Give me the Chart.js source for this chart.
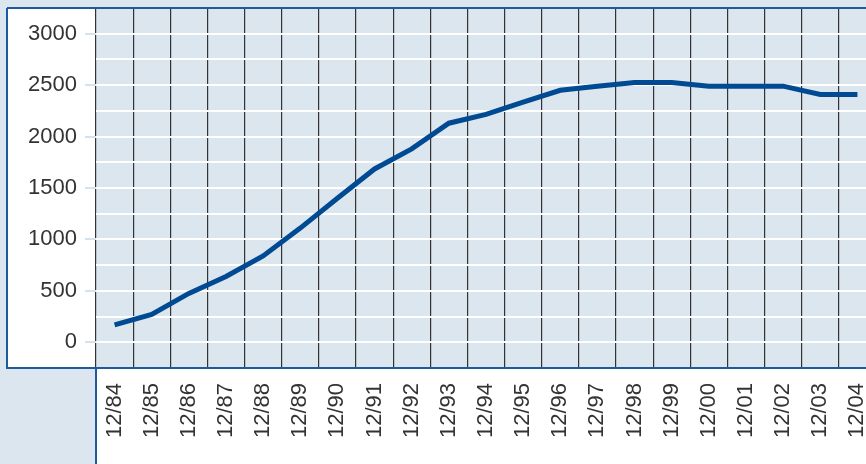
<!DOCTYPE html>
<html>
<head>
<meta charset="utf-8">
<script src="https://cdn.jsdelivr.net/npm/chart.js@4"></script>
<style>
  html, body { margin: 0; padding: 0; overflow: hidden; background: #dbe6ee; }
  #wrap { width: 866px; height: 464px; overflow: hidden; }
</style>
</head>
<body>
<div id="wrap"><canvas id="chart" width="876" height="464"></canvas></div>
<script>
const years = ['12/84', '12/85', '12/86', '12/87', '12/88', '12/89', '12/90',
    '12/91', '12/92', '12/93', '12/94', '12/95', '12/96', '12/97',
    '12/98', '12/99', '12/00', '12/01', '12/02', '12/03', '12/04'];
const values = [170, 270, 475, 640, 840, 1110, 1400,
    1685, 1880, 2130, 2215, 2335, 2450, 2490,
    2525, 2525, 2490, 2490, 2490, 2410, 2410];
const yMin = -250;
const yMax = 3250;
const yStep = 250;
const yLabelStep = 500;

const panelBlue = '#dbe6ee';
const borderBlue = '#1d5b9f';

// light blue page, white axis panels, blue frame
const panels = {
    id: 'panels',
    beforeDraw(chart) {
        const c = chart.ctx;
        const a = chart.chartArea;
        c.save();
        c.fillStyle = panelBlue;
        c.fillRect(0, 0, chart.width, chart.height);
        c.fillStyle = '#ffffff';
        c.fillRect(7, a.top, a.left - 7, a.bottom - a.top);
        c.fillRect(a.left, a.bottom, chart.width - a.left, chart.height - a.bottom);
        c.fillStyle = panelBlue;
        c.fillRect(a.left, a.top, a.right - a.left, a.bottom - a.top);
        c.restore();
    },
    afterDraw(chart) {
        const c = chart.ctx;
        const a = chart.chartArea;
        c.save();
        c.strokeStyle = borderBlue;
        c.lineWidth = 2;
        c.beginPath();
        c.moveTo(7, a.top);
        c.lineTo(chart.width, a.top);
        c.moveTo(7, a.top);
        c.lineTo(7, a.bottom);
        c.lineTo(chart.width, a.bottom);
        c.moveTo(a.left, a.bottom);
        c.lineTo(a.left, chart.height);
        c.stroke();
        c.restore();
    }
};

const isLabelled = (v) => v >= 0 && v % yLabelStep === 0;

const ctx = document.getElementById('chart').getContext('2d');
const chart = new Chart(ctx, {
    type: 'line',
    data: {
        labels: years,
        datasets: [{
            data: values,
            borderColor: '#004a93',
            borderWidth: 5,
            pointRadius: 0,
            tension: 0,
            fill: false,
        }]
    },
    options: {
        responsive: false,
        animation: false,
        layout: { padding: { top: 8, right: 0, left: 0, bottom: 0 } },
        plugins: {
            legend: { display: false },
            tooltip: { enabled: false },
        },
        scales: {
            x: {
                offset: true,
                grid: {
                    offset: true,
                    color: '#333333',
                    lineWidth: 1.2,
                    drawTicks: false,
                },
                border: { display: false },
                ticks: {
                    autoSkip: false,
                    minRotation: 90,
                    maxRotation: 90,
                    padding: 15,
                    color: '#333333',
                    font: { family: 'Liberation Sans, Arial, sans-serif', size: 22 },
                },
                afterFit(scale) {
                    scale.height = 96;
                    scale.paddingLeft = 0;
                    scale.paddingRight = 0;
                },
            },
            y: {
                min: yMin,
                max: yMax,
                grid: {
                    color: '#ffffff',
                    lineWidth: 2,
                    tickLength: 11,
                    tickColor: (c) => (c.tick && isLabelled(c.tick.value)) ? '#d6e3ed' : 'rgba(0,0,0,0)',
                },
                border: { display: false },
                ticks: {
                    autoSkip: false,
                    stepSize: yStep,
                    padding: 8,
                    color: '#333333',
                    font: { family: 'Liberation Sans, Arial, sans-serif', size: 22 },
                    callback: (v) => isLabelled(v) ? String(v) : '',
                },
                afterFit(scale) {
                    scale.width = 96;
                    scale.paddingTop = 0;
                    scale.paddingBottom = 0;
                },
            }
        }
    },
    plugins: [panels]
});
</script>
</body>
</html>
